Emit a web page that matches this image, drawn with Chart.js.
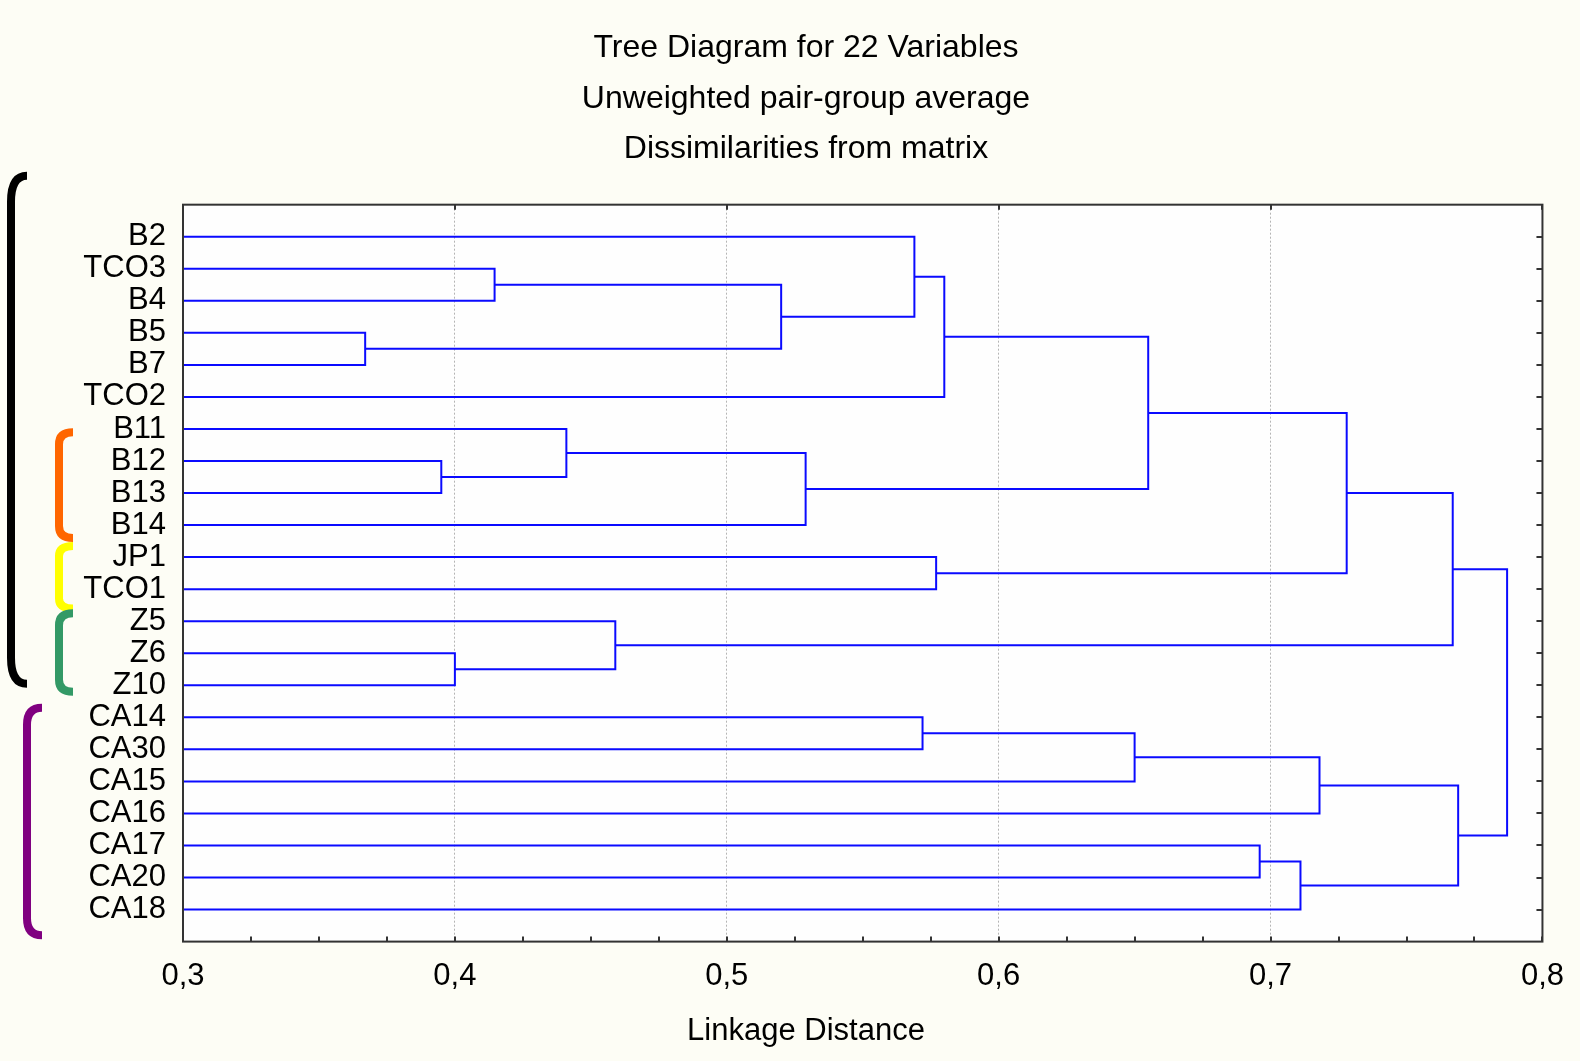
<!DOCTYPE html>
<html>
<head>
<meta charset="utf-8">
<title>Tree Diagram for 22 Variables</title>
<script src="https://cdn.jsdelivr.net/npm/chart.js@4/dist/chart.umd.min.js"></script>
<style>
  html, body { margin: 0; padding: 0; background: #fdfdf5; }
  #wrap { width: 1580px; height: 1061px; position: relative; }
</style>
</head>
<body>
<div id="wrap"><canvas id="treeChart"></canvas></div>
<script>
// leaves, top to bottom
const leaves = ['B2', 'TCO3', 'B4', 'B5', 'B7', 'TCO2', 'B11', 'B12', 'B13', 'B14', 'JP1',
  'TCO1', 'Z5', 'Z6', 'Z10', 'CA14', 'CA30', 'CA15', 'CA16', 'CA17', 'CA20', 'CA18'];

// merge steps (index < 22 = leaf, else node 22 + step)
const mergeLeft = [3, 7, 13, 1, 6, 12, 25, 26, 0, 15, 10, 30, 31, 33, 19, 36, 34, 35, 39, 38, 40];
const mergeRight = [4, 8, 14, 2, 23, 24, 22, 9, 28, 16, 11, 5, 17, 29, 20, 21, 18, 32, 27, 37, 41];
const mergeHeight = [0.367, 0.395, 0.400, 0.4146, 0.441, 0.459, 0.520, 0.529, 0.569, 0.572, 0.577,
  0.580, 0.650, 0.655, 0.696, 0.711, 0.718, 0.728, 0.767, 0.769, 0.787];

// axis ticks
const xTickValues = [0.3, 0.4, 0.5, 0.6, 0.7, 0.8];
const xTickLabels = ['0,3', '0,4', '0,5', '0,6', '0,7', '0,8'];
const xMinorStep = 0.025;

// coloured brackets on the left, in leaf units
const bracketColor = ['#000000', '#ff6600', '#ffff00', '#339966', '#800080'];
const bracketFrom = [-1.9, 6.1, 9.65, 11.75, 14.7];
const bracketTo = [13.95, 9.4, 11.6, 14.2, 21.8];

// node positions
const nodeY = leaves.map((_, i) => i);
const nodeH = leaves.map(() => 0);
mergeHeight.forEach((h, k) => {
  nodeY.push((nodeY[mergeLeft[k]] + nodeY[mergeRight[k]]) / 2);
  nodeH.push(h);
});

const datasets = mergeHeight.map((h, k) => {
  const a = mergeLeft[k], b = mergeRight[k];
  return {
    data: [
      {x: nodeH[a], y: nodeY[a]},
      {x: h, y: nodeY[a]},
      {x: h, y: nodeY[b]},
      {x: nodeH[b], y: nodeY[b]}
    ],
    showLine: true,
    borderColor: '#0a0aff',
    borderWidth: 2,
    pointRadius: 0,
    tension: 0
  };
});

const isMajor = v => Math.abs(v * 10 - Math.round(v * 10)) < 1e-6;

const framePlugin = {
  id: 'framePlugin',
  beforeDraw(chart) {
    const {ctx, chartArea: a} = chart;
    ctx.save();
    ctx.fillStyle = '#fdfdf5';
    ctx.fillRect(0, 0, chart.width, chart.height);
    ctx.fillStyle = '#fefefe';
    ctx.fillRect(a.left, a.top, a.right - a.left, a.bottom - a.top);
    ctx.restore();
  },
  afterDraw(chart) {
    const {ctx, chartArea: a} = chart;
    const x = chart.scales.x, y = chart.scales.y;
    ctx.save();
    ctx.strokeStyle = '#333333';
    ctx.lineWidth = 2;
    ctx.strokeRect(a.left, a.top, a.right - a.left, a.bottom - a.top);
    ctx.beginPath();
    x.ticks.forEach(t => {
      const px = Math.round(x.getPixelForValue(t.value));
      ctx.moveTo(px, a.bottom);
      ctx.lineTo(px, a.bottom - 5);
      if (isMajor(t.value)) {
        ctx.moveTo(px, a.top);
        ctx.lineTo(px, a.top + 5);
      }
    });
    leaves.forEach((_, i) => {
      const py = Math.round(y.getPixelForValue(i));
      ctx.moveTo(a.right, py);
      ctx.lineTo(a.right - 6, py);
    });
    ctx.stroke();

    // brackets
    const bx = [11, 59, 59, 59, 27];
    const ex = [27, 73, 73, 73, 42];
    const rr = [26, 12, 10, 12, 17];
    ctx.lineWidth = 8;
    ctx.lineCap = 'butt';
    bracketColor.forEach((c, i) => {
      const t = y.getPixelForValue(bracketFrom[i]);
      const b = y.getPixelForValue(bracketTo[i]);
      ctx.strokeStyle = c;
      ctx.beginPath();
      ctx.moveTo(ex[i], t);
      ctx.quadraticCurveTo(bx[i], t, bx[i], t + rr[i]);
      ctx.lineTo(bx[i], b - rr[i]);
      ctx.quadraticCurveTo(bx[i], b, ex[i], b);
      ctx.stroke();
    });
    ctx.restore();
  }
};

const ctx = document.getElementById('treeChart').getContext('2d');
new Chart(ctx, {
  type: 'scatter',
  data: {datasets: datasets},
  options: {
    responsive: true,
    maintainAspectRatio: false,
    animation: false,
    layout: {padding: {left: 60, right: 28, top: 0, bottom: 0}},
    scales: {
      x: {
        type: 'linear',
        min: 0.3,
        max: 0.8,
        grid: {
          drawTicks: false,
          lineWidth: 1,
          color: c => (c.tick && isMajor(c.tick.value) && c.index > 0 && c.index < 20) ? '#b4b4b4' : 'rgba(0,0,0,0)'
        },
        border: {display: false, dash: [2, 2]},
        ticks: {
          stepSize: xMinorStep,
          autoSkip: false,
          maxRotation: 0,
          padding: 16,
          color: '#000',
          font: {family: "'Liberation Sans', Arial, sans-serif", size: 31},
          callback: v => {
            const i = xTickValues.findIndex(t => Math.abs(t - v) < 1e-6);
            return i >= 0 ? xTickLabels[i] : '';
          }
        }
      },
      y: {
        type: 'linear',
        min: -1,
        max: 22,
        reverse: true,
        grid: {display: false, drawTicks: false},
        border: {display: false},
        afterFit: s => { s.width = 123; },
        ticks: {
          stepSize: 1,
          autoSkip: false,
          padding: 17,
          color: '#000',
          font: {family: "'Liberation Sans', Arial, sans-serif", size: 31},
          callback: v => (Number.isInteger(v) && v >= 0 && v < leaves.length) ? leaves[v] : ''
        }
      }
    },
    plugins: {
      legend: {display: false},
      tooltip: {enabled: false},
      title: {
        display: true,
        text: ['Tree Diagram for 22 Variables', 'Unweighted pair-group average', 'Dissimilarities from matrix'],
        color: '#000',
        font: {family: "'Liberation Sans', Arial, sans-serif", size: 32, weight: 'normal', lineHeight: 1.58},
        padding: {top: 23, bottom: 30}
      },
      subtitle: {
        display: true,
        position: 'bottom',
        text: 'Linkage Distance',
        color: '#000',
        font: {family: "'Liberation Sans', Arial, sans-serif", size: 31, weight: 'normal', lineHeight: 1.2},
        padding: {top: 2, bottom: 11}
      }
    }
  },
  plugins: [framePlugin]
});
</script>
</body>
</html>
